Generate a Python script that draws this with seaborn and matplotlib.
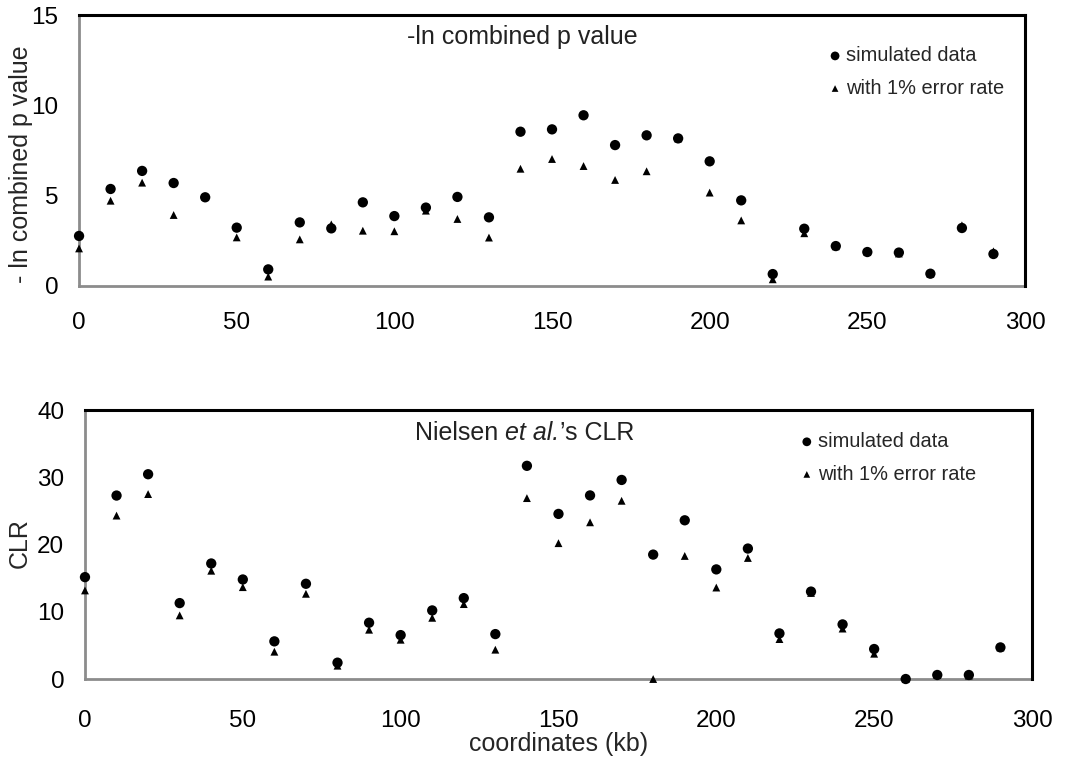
import matplotlib
matplotlib.use("Agg")
import matplotlib.pyplot as plt
import pandas as pd
import seaborn as sns

# positions along the region (kb)
coords = [0, 10, 20, 30, 40, 50, 60, 70, 80, 90, 100, 110, 120, 130, 140,
          150, 160, 170, 180, 190, 200, 210, 220, 230, 240, 250, 260, 270, 280, 290]

# -ln combined p value
p_sim = [2.77, 5.37, 6.37, 5.70, 4.91, 3.23, 0.92, 3.52, 3.19, 4.63, 3.87, 4.34, 4.93, 3.80, 8.54,
         8.67, 9.45, 7.80, 8.34, 8.17, 6.90, 4.74, 0.66, 3.17, 2.21, 1.88, 1.85, 0.68, 3.21, 1.77]
p_err = [2.08, 4.72, 5.72, 3.93, 4.95, 2.69, 0.52, 2.58, 3.41, 3.06, 3.03, 4.17, 3.71, 2.68, 6.49,
         7.03, 6.64, 5.87, 6.35, 8.17, 5.17, 3.63, 0.37, 2.92, 2.20, 1.88, 1.80, 0.68, 3.36, 1.92]

# Nielsen et al.'s CLR
clr_sim = [15.15, 27.28, 30.45, 11.29, 17.18, 14.80, 5.60, 14.16, 2.43, 8.37, 6.53, 10.20, 12.03, 6.68, 31.70,
           24.55, 27.30, 29.60, 18.50, 23.60, 16.30, 19.40, 6.78, 13.00, 8.12, 4.46, 0.00, 0.60, 0.60, 4.70]
clr_err = [13.17, 24.30, 27.50, 9.46, 16.10, 13.66, 4.06, 12.67, 1.98, 7.33, 5.84, 9.10, 11.14, 4.36, 26.90,
           20.20, 23.30, 26.50, 0.00, 18.30, 13.60, 18.00, 5.94, 12.80, 7.50, 3.76, 0.00, 0.60, 0.50, 4.70]

series = ['simulated data', 'with 1% error rate']

sns.set_style('white')
plt.rcParams['font.family'] = ['Liberation Sans', 'DejaVu Sans']

grey = '#8c8c8c'

fig = plt.figure(figsize=(10.77, 7.58), dpi=100)
ax_top = fig.add_axes([0.0734, 0.6227, 0.8783, 0.3575])
ax_bot = fig.add_axes([0.0789, 0.1042, 0.8793, 0.3549])


def draw_panel(ax, sim, err, ylim, yticks, xpad):
    df = pd.DataFrame({'coord': coords * 2,
                       'value': sim + err,
                       'series': [series[0]] * len(sim) + [series[1]] * len(err)})
    sns.scatterplot(data=df[df.series == series[0]], x='coord', y='value', ax=ax,
                    marker='o', s=55, color='black', edgecolor='none',
                    clip_on=False, zorder=3, label=series[0])
    sns.scatterplot(data=df[df.series == series[1]], x='coord', y='value', ax=ax,
                    marker='^', s=32, color='black', edgecolor='none',
                    clip_on=False, zorder=4, label=series[1])
    ax.set_xlim(0, 300)
    ax.set_ylim(*ylim)
    ax.set_xticks([0, 50, 100, 150, 200, 250, 300])
    ax.set_yticks(yticks)
    for side in ['left', 'bottom']:
        ax.spines[side].set_color(grey)
        ax.spines[side].set_linewidth(2)
    for side in ['top', 'right']:
        ax.spines[side].set_color('black')
        ax.spines[side].set_linewidth(2.2)
    ax.spines['left'].set_zorder(1)
    ax.spines['bottom'].set_zorder(1)
    ax.tick_params(axis='both', which='major', direction='out', length=5,
                   width=1.5, color=grey, labelsize=17.5, labelcolor='black')
    ax.tick_params(axis='x', pad=xpad)
    ax.tick_params(axis='y', pad=10)
    ax.set_xlabel('')
    ax.set_ylabel('')
    ax.legend(loc='upper left', frameon=False, fontsize=14.4, markerscale=0.85,
              handlelength=0.4, handletextpad=0.35, borderpad=0,
              borderaxespad=0, labelspacing=0.68)


draw_panel(ax_top, p_sim, p_err, (0, 15), [0, 5, 10, 15], 14)
draw_panel(ax_bot, clr_sim, clr_err, (0, 40), [0, 10, 20, 30, 40], 17)

ax_top.set_ylabel('- ln combined p value', fontsize=18)
ax_top.yaxis.set_label_coords(-0.049, 0.45)
ax_bot.set_ylabel('CLR', fontsize=18)
ax_bot.yaxis.set_label_coords(-0.056, 0.506)
ax_bot.set_xlabel('coordinates (kb)', fontsize=18, labelpad=0)

ax_top.text(0.469, 0.919, '-ln combined p value', transform=ax_top.transAxes,
            ha='center', va='center', fontsize=18, color='#222222')

# panel title with italic "et al." built from three pieces
t1 = ax_bot.text(0.3485, 0.914, 'Nielsen ', transform=ax_bot.transAxes,
                 ha='left', va='center', fontsize=18, color='#222222')
t2 = ax_bot.annotate('et al.', xy=(1, 0), xycoords=t1, ha='left', va='bottom',
                     fontsize=18, color='#222222', style='italic')
ax_bot.annotate('\u2019s CLR', xy=(1, 0), xycoords=t2, ha='left', va='bottom',
                fontsize=18, color='#222222')

ax_top.legend_.set_bbox_to_anchor((0.795, 0.885), transform=ax_top.transAxes)
ax_bot.legend_.set_bbox_to_anchor((0.758, 0.918), transform=ax_bot.transAxes)

fig.savefig('out.png', dpi=100)
